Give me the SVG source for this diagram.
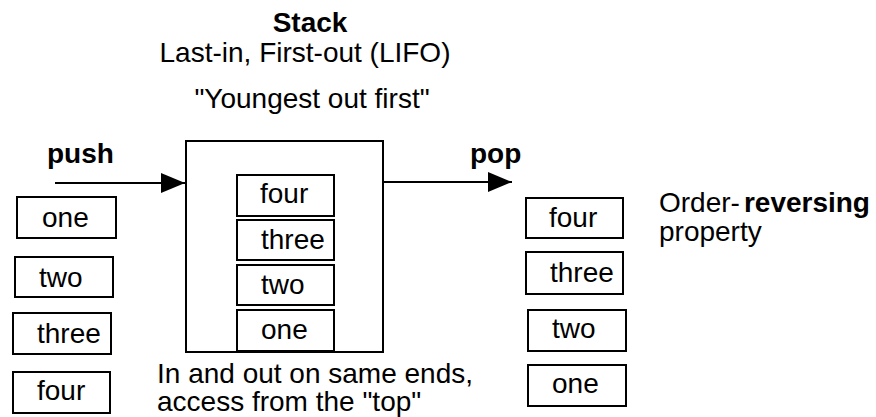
<svg xmlns="http://www.w3.org/2000/svg" width="876" height="417" viewBox="0 0 876 417">
<style>
text{font-family:"Liberation Sans",Arial,sans-serif;font-size:28px;fill:#000}
.b{font-weight:bold}
rect{fill:#fff;stroke:#000;stroke-width:2}
.c{stroke:#000;stroke-width:2;fill:none}
</style>
<defs>
<marker id="ah" markerWidth="24" markerHeight="20" refX="24" refY="10" orient="auto" markerUnits="userSpaceOnUse">
<path d="M0,0 L24,10 L0,20 Z" fill="#000"/>
</marker>
</defs>
<g id="title">
<text class="b" x="310" y="32" text-anchor="middle">Stack</text>
<text x="305" y="62" text-anchor="middle">Last-in, First-out (LIFO)</text>
<text x="312" y="108" text-anchor="middle">"Youngest out first"</text>
</g>
<g id="labels">
<text class="b" x="47" y="163">push</text>
<text class="b" x="470" y="163">pop</text>
<text x="659" y="212">Order-<tspan class="b" dx="4">reversing</tspan></text>
<text x="659" y="241">property</text>
<text x="157" y="383">In and out on same ends,</text>
<text x="157" y="411">access from the "top"</text>
</g>
<g id="stack">
<rect x="186" y="141" width="197" height="211"/>
</g>
<g id="in-four"><rect x="237" y="175" width="97" height="41"/><text x="260" y="203">four</text></g>
<g id="in-three"><rect x="237" y="220" width="97" height="40"/><text x="261" y="249">three</text></g>
<g id="in-two"><rect x="237" y="265" width="97" height="40"/><text x="261" y="294">two</text></g>
<g id="in-one"><rect x="237" y="310" width="97" height="41"/><text x="261" y="339">one</text></g>
<g id="left-one"><rect x="17" y="197" width="99" height="41"/><text x="42" y="227">one</text></g>
<g id="left-two"><rect x="15" y="257" width="98" height="40"/><text x="39" y="287">two</text></g>
<g id="left-three"><rect x="13" y="313" width="98" height="41"/><text x="37" y="343">three</text></g>
<g id="left-four"><rect x="13" y="372" width="97" height="41"/><text x="37" y="400">four</text></g>
<g id="right-four"><rect x="526" y="198" width="97" height="40"/><text x="549" y="227">four</text></g>
<g id="right-three"><rect x="526" y="252" width="97" height="42"/><text x="550" y="282">three</text></g>
<g id="right-two"><rect x="528" y="310" width="98" height="41"/><text x="552" y="338">two</text></g>
<g id="right-one"><rect x="528" y="365" width="98" height="41"/><text x="552" y="393">one</text></g>
<g id="connectors">
<line class="c" x1="55" y1="183" x2="185" y2="183" marker-end="url(#ah)"/>
<line class="c" x1="383" y1="182" x2="512" y2="182" marker-end="url(#ah)"/>
</g>
</svg>
